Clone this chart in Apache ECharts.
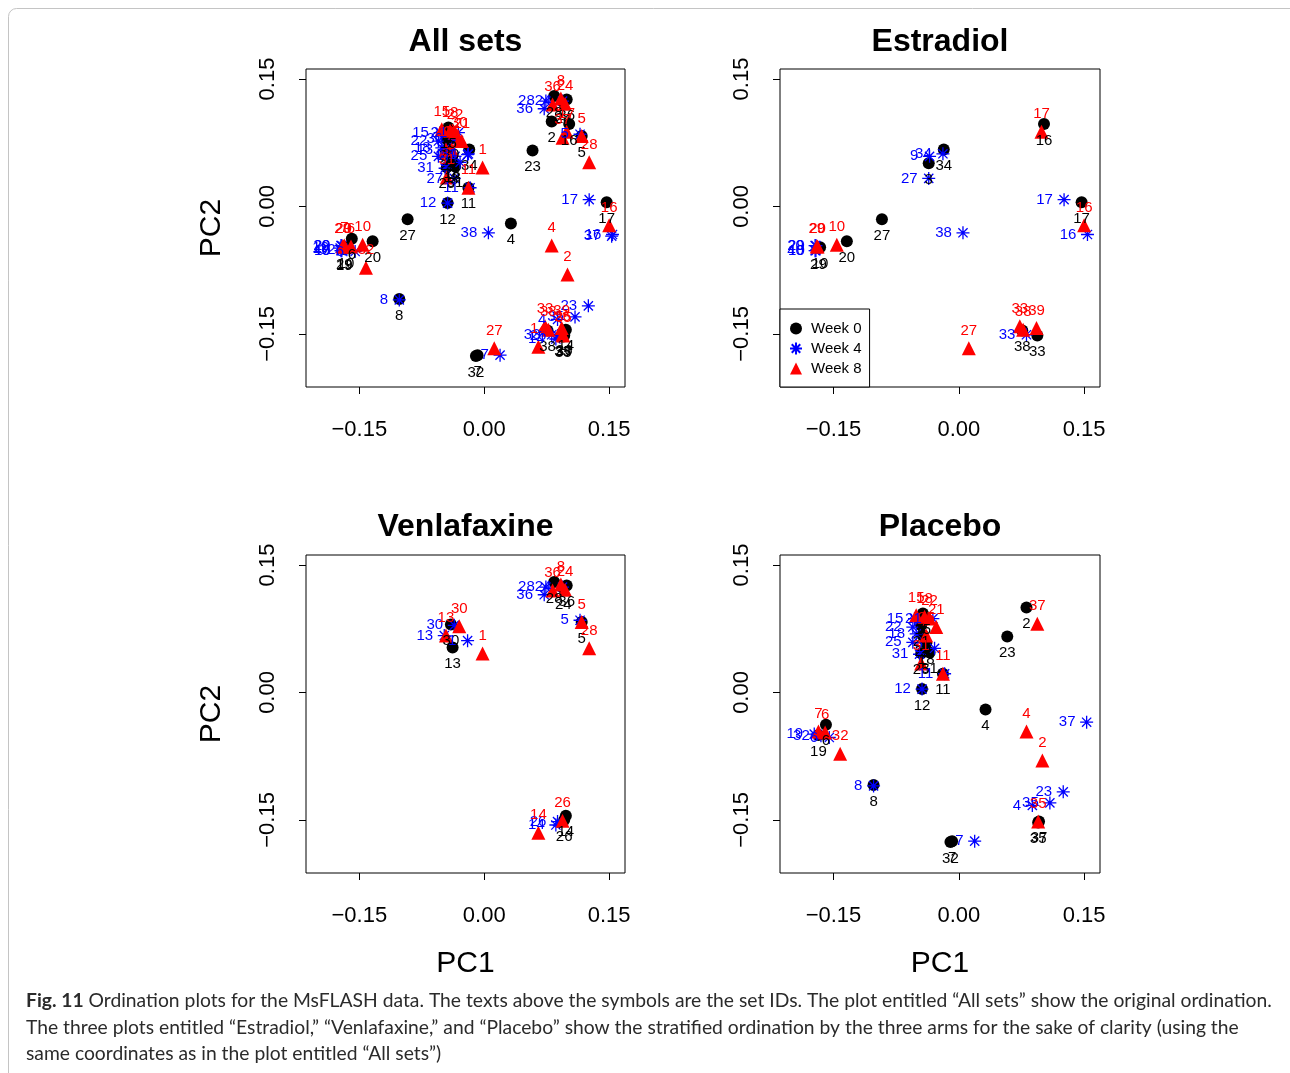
<!DOCTYPE html>
<html>
<head>
<meta charset="utf-8">
<script src="https://cdn.jsdelivr.net/npm/echarts@6/dist/echarts.min.js"></script>
<style>
  html, body { margin: 0; padding: 0; background: #ffffff; }
  #chart { width: 1290px; height: 1073px; }
</style>
</head>
<body>
<div id="chart"></div>
<script>
// Ordination coordinates per arm and visit: [set ID, PC1, PC2]
const estradiolWeek0 = [
  [16, 0.102, 0.097], [34, -0.018, 0.067], [3, -0.036, 0.051], [27, -0.092, -0.015],
  [20, -0.134, -0.041], [10, -0.166, -0.048], [29, -0.168, -0.049], [17, 0.147, 0.005],
  [38, 0.076, -0.146], [33, 0.094, -0.152]
];
const estradiolWeek4 = [
  [9, -0.035, 0.059], [34, -0.019, 0.062], [27, -0.036, 0.033], [17, 0.126, 0.008],
  [16, 0.154, -0.033], [38, 0.005, -0.031], [33, 0.081, -0.151], [20, -0.172, -0.046],
  [29, -0.171, -0.046], [40, -0.172, -0.052], [10, -0.171, -0.052]
];
const estradiolWeek8 = [
  [17, 0.099, 0.088], [16, 0.150, -0.022], [29, -0.170, -0.047], [20, -0.169, -0.047],
  [10, -0.146, -0.045], [27, 0.012, -0.167], [33, 0.073, -0.141], [38, 0.077, -0.145],
  [39, 0.093, -0.143]
];

const venlafaxineWeek0 = [
  [30, -0.040, 0.080], [13, -0.038, 0.053], [28, 0.084, 0.130], [24, 0.095, 0.123],
  [36, 0.099, 0.126], [5, 0.117, 0.083], [14, 0.098, -0.145], [26, 0.096, -0.150]
];
const venlafaxineWeek4 = [
  [30, -0.036, 0.079], [13, -0.048, 0.067], [1, -0.020, 0.061], [36, 0.072, 0.115],
  [28, 0.074, 0.124], [24, 0.094, 0.124], [5, 0.115, 0.085], [26, 0.088, -0.152],
  [14, 0.086, -0.156]
];
const venlafaxineWeek8 = [
  [30, -0.030, 0.078], [13, -0.046, 0.067], [1, -0.002, 0.046], [36, 0.082, 0.120],
  [8, 0.092, 0.127], [24, 0.097, 0.121], [5, 0.117, 0.083], [28, 0.126, 0.052],
  [26, 0.094, -0.151], [14, 0.065, -0.165]
];

const placeboWeek0 = [
  [2, 0.081, 0.100], [23, 0.058, 0.066], [4, 0.032, -0.020], [11, -0.019, 0.022],
  [12, -0.044, 0.004], [8, -0.102, -0.109], [32, -0.010, -0.176], [7, -0.008, -0.175],
  [35, 0.095, -0.153], [37, 0.096, -0.152], [6, -0.159, -0.038], [19, -0.168, -0.050],
  [15, -0.043, 0.093], [21, -0.045, 0.079], [22, -0.043, 0.067], [18, -0.039, 0.058],
  [25, -0.045, 0.046], [31, -0.035, 0.047]
];
const placeboWeek4 = [
  [37, 0.153, -0.035], [23, 0.125, -0.117], [35, 0.109, -0.130], [4, 0.088, -0.133],
  [7, 0.019, -0.175], [8, -0.102, -0.110], [12, -0.044, 0.004], [11, -0.017, 0.022],
  [19, -0.173, -0.049], [32, -0.165, -0.051], [6, -0.155, -0.053], [15, -0.053, 0.087],
  [22, -0.055, 0.077], [18, -0.051, 0.069], [25, -0.055, 0.059], [31, -0.047, 0.045],
  [21, -0.031, 0.087], [2, -0.029, 0.052]
];
const placeboWeek8 = [
  [37, 0.094, 0.081], [4, 0.081, -0.046], [2, 0.100, -0.080], [11, -0.019, 0.022],
  [32, -0.142, -0.072], [7, -0.168, -0.046], [6, -0.160, -0.047], [35, 0.095, -0.152],
  [31, -0.045, 0.034], [15, -0.051, 0.091], [18, -0.041, 0.089], [22, -0.035, 0.087],
  [21, -0.027, 0.077], [25, -0.039, 0.067]
];

const panelTitles = ['All sets', 'Estradiol', 'Venlafaxine', 'Placebo'];
const weekNames = ['Week 0', 'Week 4', 'Week 8'];
const tickValues = [-0.15, 0, 0.15];

// "All sets" pools the three arms; the other panels show one arm each
const panelData = [
  [
    estradiolWeek0.concat(venlafaxineWeek0, placeboWeek0),
    estradiolWeek4.concat(venlafaxineWeek4, placeboWeek4),
    estradiolWeek8.concat(venlafaxineWeek8, placeboWeek8)
  ],
  [estradiolWeek0, estradiolWeek4, estradiolWeek8],
  [venlafaxineWeek0, venlafaxineWeek4, venlafaxineWeek8],
  [placeboWeek0, placeboWeek4, placeboWeek8]
];

const FONT = '"Liberation Sans", Arial, Helvetica, sans-serif';
const ASTERISK = 'path://M5,0L5,10M0,5L10,5M1.46,1.46L8.54,8.54M1.46,8.54L8.54,1.46';

const grids = [
  { left: 306, top: 69, width: 319, height: 318 },
  { left: 780, top: 69, width: 320, height: 318 },
  { left: 306, top: 555, width: 319, height: 318 },
  { left: 780, top: 555, width: 320, height: 318 }
];

const weekStyles = [
  { symbol: 'circle', symbolSize: 12, color: '#000000', border: 0, pos: 'bottom', dist: 3 },
  { symbol: ASTERISK, symbolSize: 13, color: '#0000ff', border: 1.3, pos: 'left', dist: 4 },
  { symbol: 'triangle', symbolSize: 14, color: '#ff0000', border: 0, pos: 'top', dist: 3 }
];

function tickText(v) {
  return (v < 0 ? '\u2212' : '') + Math.abs(v).toFixed(2);
}

const xAxes = grids.map((g, i) => ({
  gridIndex: i, type: 'value', min: -0.214, max: 0.169, position: 'bottom',
  axisLine: { show: false, onZero: false }, splitLine: { show: false },
  axisTick: { show: true, length: 7, customValues: tickValues, lineStyle: { color: '#000', width: 1 } },
  axisLabel: { customValues: tickValues, formatter: tickText, margin: 32,
    fontFamily: FONT, fontSize: 22, color: '#000' },
  name: i >= 2 ? 'PC1' : '', nameLocation: 'middle', nameGap: 76,
  nameTextStyle: { fontFamily: FONT, fontSize: 30, color: '#000' }
}));

const yAxes = grids.map((g, i) => ({
  gridIndex: i, type: 'value', min: -0.2125, max: 0.1618, position: 'left',
  axisLine: { show: false, onZero: false }, splitLine: { show: false },
  axisTick: { show: true, length: 7, customValues: tickValues, lineStyle: { color: '#000', width: 1 } },
  axisLabel: { customValues: tickValues, formatter: tickText, margin: 27, rotate: 90,
    fontFamily: FONT, fontSize: 22, color: '#000' },
  name: i % 2 === 0 ? 'PC2' : '', nameLocation: 'middle', nameGap: 79, nameRotate: 90,
  nameTextStyle: { fontFamily: FONT, fontSize: 30, color: '#000' }
}));

const series = [];
panelData.forEach((weeks, p) => {
  weeks.forEach((rows, w) => {
    const st = weekStyles[w];
    series.push({
      type: 'scatter', name: weekNames[w],
      xAxisIndex: p, yAxisIndex: p,
      symbol: st.symbol, symbolSize: st.symbolSize,
      data: rows.map(r => [r[1], r[2], r[0]]),
      encode: { x: 0, y: 1 },
      itemStyle: { color: st.color, borderColor: st.color, borderWidth: st.border, opacity: 1 },
      label: {
        show: true, position: st.pos, distance: st.dist,
        formatter: prm => String(prm.value[2]),
        fontFamily: FONT, fontSize: 15, color: st.color
      },
      emphasis: { disabled: true },
      animation: false
    });
  });
});

const titles = panelTitles.map((t, i) => ({
  text: t, left: grids[i].left + grids[i].width / 2, top: i < 2 ? 26 : 511,
  textAlign: 'center', padding: 0,
  textStyle: { fontFamily: FONT, fontSize: 32, fontWeight: 'bold', color: '#000' }
}));

const chart = echarts.init(document.getElementById('chart'), null, { renderer: 'canvas' });
chart.setOption({
  backgroundColor: '#ffffff',
  animation: false,
  title: titles,
  grid: grids.map(g => Object.assign({ show: true, borderColor: '#000', borderWidth: 1,
    backgroundColor: 'transparent', containLabel: false }, g)),
  xAxis: xAxes,
  yAxis: yAxes,
  legend: {
    left: 780, top: 309, orient: 'vertical', selectedMode: false,
    data: [
      { name: 'Week 0', icon: 'circle' },
      { name: 'Week 4', icon: ASTERISK },
      { name: 'Week 8', icon: 'triangle' }
    ],
    itemWidth: 12, itemHeight: 12, itemGap: 5,
    padding: [12, 8, 11, 9],
    borderColor: '#000', borderWidth: 1, borderRadius: 0,
    backgroundColor: '#ffffff',
    textStyle: { fontFamily: FONT, fontSize: 15, color: '#000', padding: [0, 0, 0, 4] }
  },
  graphic: [
    {
      type: 'rect', silent: true, z: -1,
      shape: { x: 8.5, y: 8.5, width: 1320, height: 1100, r: 8 },
      style: { fill: 'none', stroke: '#c4c4c4', lineWidth: 1 }
    },
    {
      type: 'text', left: 26, top: 988, silent: true,
      style: {
        text: '{b|Fig. 11} Ordination plots for the MsFLASH data. The texts above the symbols are the set IDs. The plot entitled \u201cAll sets\u201d show the original ordination.\n' +
              'The three plots entitled \u201cEstradiol,\u201d \u201cVenlafaxine,\u201d and \u201cPlacebo\u201d show the stratified ordination by the three arms for the sake of clarity (using the\n' +
              'same coordinates as in the plot entitled \u201cAll sets\u201d)',
        fontFamily: 'Lato, sans-serif', fontSize: 19.3, lineHeight: 26.5, fill: '#2b2b2b',
        rich: { b: { fontFamily: 'Lato, sans-serif', fontSize: 19.3, fontWeight: 'bold', lineHeight: 26.5, fill: '#2b2b2b' } }
      }
    }
  ],
  series: series
});
</script>
</body>
</html>
